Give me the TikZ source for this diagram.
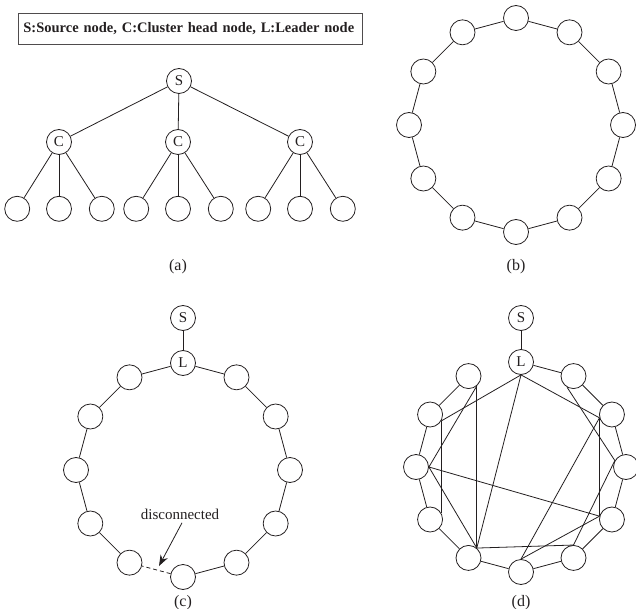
\documentclass[tikz,border=0pt]{standalone}
\usepackage{fontspec}
\setmainfont{Liberation Serif}
\usetikzlibrary{arrows.meta, positioning}
\definecolor{ink}{HTML}{231F20}
\tikzstyle{nd}=[draw=ink, circle, line width=0.8pt, minimum size=25pt, inner sep=0pt, text=ink, font=\fontsize{15}{15}\selectfont]
\tikzstyle{ln}=[draw=ink, line width=0.8pt]
\tikzstyle{lbl}=[text=ink, font=\fontsize{16}{16}\selectfont]
\tikzstyle{arr}=[ln, -{Stealth[length=11pt, width=8pt]}]

\begin{document}
\begin{tikzpicture}[x=1pt, y=-1pt]
    \useasboundingbox (0,0) rectangle (636,609);

    % legend
    \node [draw=ink!80, line width=0.8pt, anchor=west, inner xsep=5pt, text width=334pt, minimum height=31pt, align=left, text=ink, font=\bfseries\fontsize{14.5}{15}\selectfont] (key) at (18,28.5) {S:Source node, C:Cluster head node, L:Leader node};

    % (a) cluster tree
    \node [nd] (S) at (179,81) {S};
    \node [nd] (C1) at (59,142) {C};
    \node [nd] (C2) at (178,142) {C};
    \node [nd] (C3) at (300,142) {C};
    \foreach \c in {1,2,3} {
        \node [nd, below=41pt of C\c] (K\c) {};
        \node [nd, left=16pt of K\c] (J\c) {};
        \node [nd, right=17pt of K\c] (L\c) {};
        \path (S) edge[ln] (C\c);
        \path (C\c) edge[ln] (J\c) (C\c) edge[ln] (K\c) (C\c) edge[ln] (L\c);
    }
    \node [lbl] (capa) at (178,267) {(a)};

    % (b) ring
    \foreach \i in {0,...,11}
        \node [nd] (b\i) at ({516+107*cos(90-30*\i)}, {125-107*sin(90-30*\i)}) {};
    \foreach \i [evaluate=\i as \j using {int(mod(\i+1,12))}] in {0,...,11}
        \path (b\i) edge[ln] (b\j);
    \node [lbl] (capb) at (516,267) {(b)};

    % (c) ring with leader, one link broken
    \node [nd] (cS) at (183,318) {S};
    \node [nd] (c0) at (183,363) {L};
    \foreach \i in {1,...,11}
        \node [nd] (c\i) at ({183+107*cos(90-30*\i)}, {470-107*sin(90-30*\i)}) {};
    \path (cS) edge[ln] (c0);
    \foreach \i [evaluate=\i as \j using {int(mod(\i+1,12))}] in {0,...,5,7,8,9,10,11}
        \path (c\i) edge[ln] (c\j);
    \path (c6) edge[ln, dash pattern=on 4pt off 3pt] (c7);
    \node [lbl, font=\fontsize{15}{15}\selectfont] (dis) at (180,514) {disconnected};
    \coordinate (gap) at (159,566);
    \draw [arr] ([xshift=2pt]dis.south) -- (gap);
    \node [lbl] (capc) at (183,603) {(c)};

    % (d) ring with extra links
    \node [nd] (dS) at (521,318) {S};
    \node [nd] (d0) at (521,362) {L};
    \foreach \i in {1,...,11}
        \node [nd] (d\i) at ({521+105*cos(90-30*\i)}, {467-105*sin(90-30*\i)}) {};
    \path (dS) edge[ln] (d0);
    \foreach \i [evaluate=\i as \j using {int(\i+1)}] in {0,...,10}
        \path (d\i) edge[ln] (d\j);
    \foreach \p/\q in {0.south/10.-30, 0.south/7.50, 0.south/2.195, 11.-50/9.east,
                       11.-50/7.50, 10.-30/8.30, 9.east/7.50, 9.east/4.165, 7.50/5.north,
                       1.-120/3.150, 2.195/6.north, 2.195/4.165, 4.165/6.north, 3.150/5.north}
        \draw [ln] (d\p) -- (d\q);
    \node [lbl] (capd) at (521,603) {(d)};
\end{tikzpicture}
\end{document}
